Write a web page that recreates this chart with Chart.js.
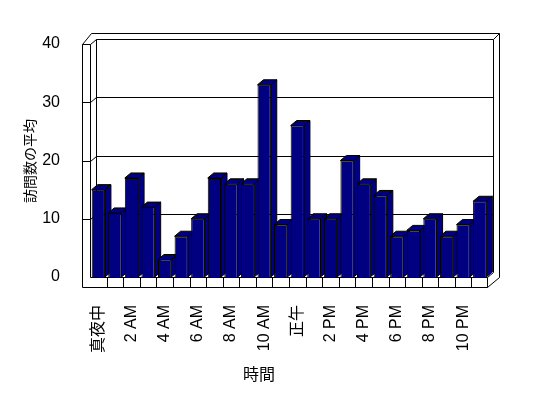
<!DOCTYPE html>
<html>
<head>
<meta charset="utf-8">
<script src="https://cdn.jsdelivr.net/npm/chart.js@4.4.1/dist/chart.umd.min.js"></script>
<style>
  html, body { margin: 0; padding: 0; background: #fff; }
</style>
</head>
<body>
<canvas id="chart" width="548" height="398"></canvas>
<script>
const hours = ['真夜中', '1 AM', '2 AM', '3 AM', '4 AM', '5 AM', '6 AM', '7 AM', '8 AM', '9 AM', '10 AM', '11 AM',
  '正午', '1 PM', '2 PM', '3 PM', '4 PM', '5 PM', '6 PM', '7 PM', '8 PM', '9 PM', '10 PM', '11 PM']
const avgVisits = [15, 11, 17, 12, 3, 7, 10, 17, 16, 16, 33, 9, 26, 10, 10, 20, 16, 14, 7, 8, 10, 7, 9, 13]
const valueTicks = [0, 10, 20, 30, 40]

const NAVY = '#000080'
const FONT = "'Liberation Sans', 'Noto Sans CJK JP', sans-serif"
const dx = 6, dy = -5   // depth of the 3d bars and back wall

function line(ctx, x1, y1, x2, y2) {
  ctx.beginPath()
  ctx.moveTo(x1, y1)
  ctx.lineTo(x2, y2)
  ctx.stroke()
}
function poly(ctx, pts) {
  ctx.beginPath()
  ctx.moveTo(pts[0][0], pts[0][1])
  for (let i = 1; i < pts.length; i++) ctx.lineTo(pts[i][0], pts[i][1])
  ctx.closePath()
  ctx.fill()
  ctx.stroke()
}

// walls, floor, gridlines and the top/side faces of the bars
const frame3d = {
  id: 'frame3d',
  beforeDatasetsDraw(chart) {
    const { ctx, chartArea: a, scales } = chart
    const L = Math.round(a.left) + 0.5, R = Math.round(a.right) - 0.5
    const T = Math.round(a.top) + 0.5, B = Math.round(a.bottom) + 0.5
    const wl = L - 8, fb = B + 10
    ctx.save()
    ctx.strokeStyle = '#000'
    ctx.fillStyle = '#000'
    ctx.lineWidth = 1

    // back wall + gridlines
    valueTicks.forEach(v => {
      if (v === 0) return
      const py = Math.round(scales.y.getPixelForValue(v)) + 0.5
      line(ctx, wl, py, L, py)
      line(ctx, L, py, L + dx, py + dy)
      line(ctx, L + dx, py + dy, R + dx, py + dy)
    })
    line(ctx, L + dx, T + dy, L + dx, B + dy)
    line(ctx, R + dx, T + dy, R + dx, B + dy)
    // outer edge of the back wall
    line(ctx, wl, T, wl + 9, T - 11)
    line(ctx, wl + 9, T - 11, R + dx + 6, T - 11)
    line(ctx, R + dx, T + dy, R + dx + 6, T - 11)
    line(ctx, R + dx + 6, T - 11, R + dx + 6, B)
    // left wall
    line(ctx, wl, T, wl, fb)
    line(ctx, L, T, L, B)
    // floor front face
    line(ctx, L, B, R, B)
    line(ctx, wl, fb, R, fb)
    line(ctx, R, B, R, fb)
    line(ctx, R, B, R + dx, B + dy)
    line(ctx, R, fb, R + dx + 6, B)
    // category tick marks on the floor face
    const step = (a.right - a.left) / hours.length
    for (let i = 1; i < hours.length; i++) {
      ctx.fillRect(Math.round(a.left + step * i), Math.round(a.bottom), 1, 10)
    }

    // 3d faces of the bars
    ctx.fillStyle = NAVY
    chart.getDatasetMeta(0).data.forEach(bar => {
      const { x, y, base, width } = bar.getProps(['x', 'y', 'base', 'width'], true)
      const x0 = x - width / 2, x1 = x + width / 2
      poly(ctx, [[x0, y], [x1, y], [x1 + dx, y + dy], [x0 + dx, y + dy]])
      poly(ctx, [[x1, y], [x1 + dx, y + dy], [x1 + dx, base + dy], [x1, base]])
    })
    ctx.restore()
  },
  afterDraw(chart) {
    const { ctx } = chart
    ctx.save()
    ctx.fillStyle = '#000'
    ctx.textAlign = 'center'
    ctx.textBaseline = 'middle'
    ctx.font = "16px " + FONT
    ctx.fillText('時間', 259, 376)
    ctx.translate(31, 161)
    ctx.rotate(-Math.PI / 2)
    ctx.font = "14px " + FONT
    ctx.fillText('訪問数の平均', 0, 0)
    ctx.restore()
  }
}

new Chart(document.getElementById('chart'), {
  type: 'bar',
  data: {
    labels: hours,
    datasets: [{
      label: '訪問数の平均',
      data: avgVisits,
      backgroundColor: NAVY,
      borderColor: '#000',
      borderWidth: 1,
      barPercentage: 0.8,
      categoryPercentage: 1
    }]
  },
  options: {
    responsive: false,
    animation: false,
    layout: { padding: { left: 0, top: 44, right: 60, bottom: 0 } },
    plugins: { legend: { display: false }, tooltip: { enabled: false } },
    scales: {
      x: {
        grid: { display: false },
        border: { display: false },
        afterFit: s => { s.height = 121 },
        ticks: {
          autoSkip: false,
          minRotation: 90,
          maxRotation: 90,
          padding: 20,
          color: '#000',
          font: { family: FONT, size: 16 },
          callback: (v, i) => i % 2 === 0 ? hours[i] : ''
        }
      },
      y: {
        min: 0,
        max: 40,
        grid: { display: false },
        border: { display: false },
        afterFit: s => { s.width = 90 },
        ticks: {
          stepSize: 10,
          padding: 22,
          color: '#000',
          font: { family: FONT, size: 16 }
        }
      }
    }
  },
  plugins: [frame3d]
})
</script>
</body>
</html>
